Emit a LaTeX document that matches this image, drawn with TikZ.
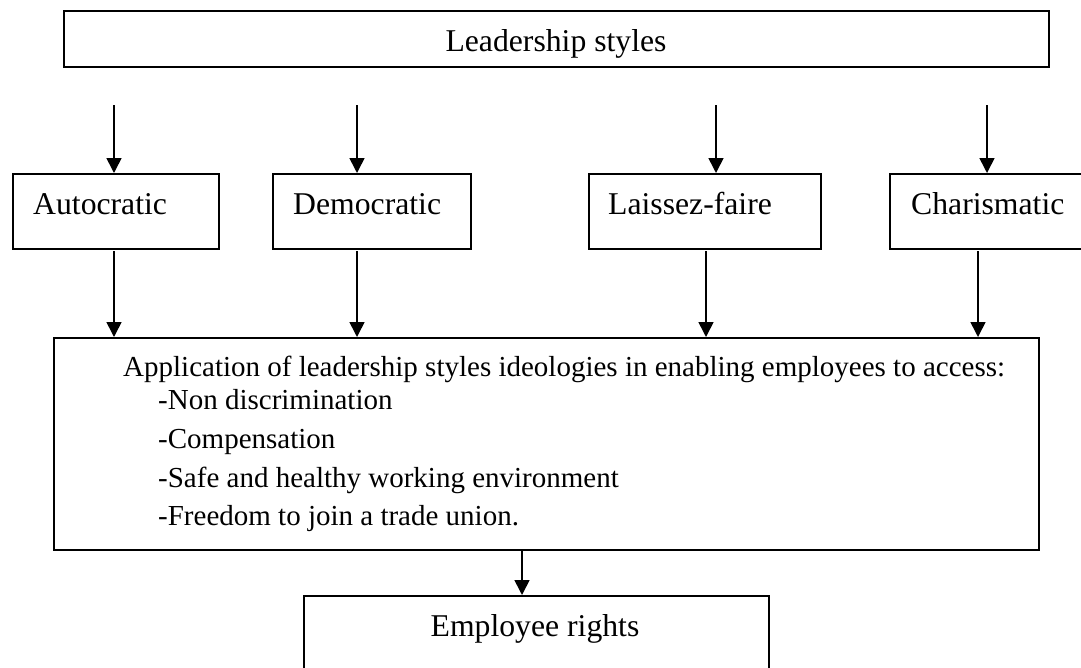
\documentclass[tikz,border=0pt]{standalone}
\usepackage{fontspec}
\setmainfont{Liberation Serif}
\usetikzlibrary{arrows.meta,calc}
\begin{document}
\begin{tikzpicture}[x=1pt,y=-1pt,
  boxst/.style={draw, line width=1.6pt, rectangle, inner sep=0pt, anchor=north west},
  lbl/.style={inner sep=0pt, font=\fontsize{31.7}{38}\selectfont},
  small/.style={inner sep=0pt, anchor=base west, font=\fontsize{29}{38}\selectfont},
  arr/.style={line width=1.6pt, -{Triangle[width=15pt,length=15pt]}}]
\useasboundingbox (0,0) rectangle (1081,667);
\clip (0,0) rectangle (1081,667);

% top box
\node[boxst, minimum width=985pt, minimum height=56pt] (top) at (63,10) {};
\node[lbl, anchor=base] (toptxt) at (556,51) {Leadership styles};

% style boxes
\node[boxst, minimum width=206pt, minimum height=75pt] (auto) at (12,173) {};
\node[boxst, minimum width=198pt, minimum height=75pt] (demo) at (272,173) {};
\node[boxst, minimum width=232pt, minimum height=75pt] (lais) at (588,173) {};
\node[boxst, minimum width=210pt, minimum height=75pt] (char) at (889,173) {};
\node[lbl, anchor=base west] (autotxt) at (33,214) {Autocratic};
\node[lbl, anchor=base west] (demotxt) at (293,214) {Democratic};
\node[lbl, anchor=base west] (laistxt) at (608,214) {Laissez-faire};
\node[lbl, anchor=base west] (chartxt) at (911,214) {Charismatic};

% big box
\node[boxst, minimum width=985pt, minimum height=212pt] (big) at (53,337) {};
\node[small] (app) at (123,376) {Application of leadership styles ideologies in enabling employees to access:};
\node[small] (i1) at (158,409) {-Non discrimination};
\node[small] (i2) at (158,448) {-Compensation};
\node[small] (i3) at (158,487) {-Safe and healthy working environment};
\node[small] (i4) at (158,525) {-Freedom to join a trade union.};

% bottom box (cut by the page edge)
\node[boxst, minimum width=465pt, minimum height=110pt] (low) at (303,595) {};
\node[lbl, anchor=base] (lowtxt) at (535,636) {Employee rights};

% arrows into the style boxes
\coordinate (s1) at (114,105);
\coordinate (s2) at (357,105);
\coordinate (s3) at (716,105);
\coordinate (s4) at (987,105);
\draw[arr] (s1) -- (s1 |- auto.north);
\draw[arr] (s2) -- (s2 |- demo.north);
\draw[arr] (s3) -- (s3 |- lais.north);
\draw[arr] (s4) -- (s4 |- char.north);

% arrows into the big box
\coordinate (b1) at (114,251);
\coordinate (b2) at (357,251);
\coordinate (b3) at (706,251);
\coordinate (b4) at (978,251);
\draw[arr] (b1) -- (b1 |- big.north);
\draw[arr] (b2) -- (b2 |- big.north);
\draw[arr] (b3) -- (b3 |- big.north);
\draw[arr] (b4) -- (b4 |- big.north);

% arrow to employee rights
\coordinate (f1) at (522,549);
\draw[arr] (f1) -- (f1 |- low.north);
\end{tikzpicture}
\end{document}
